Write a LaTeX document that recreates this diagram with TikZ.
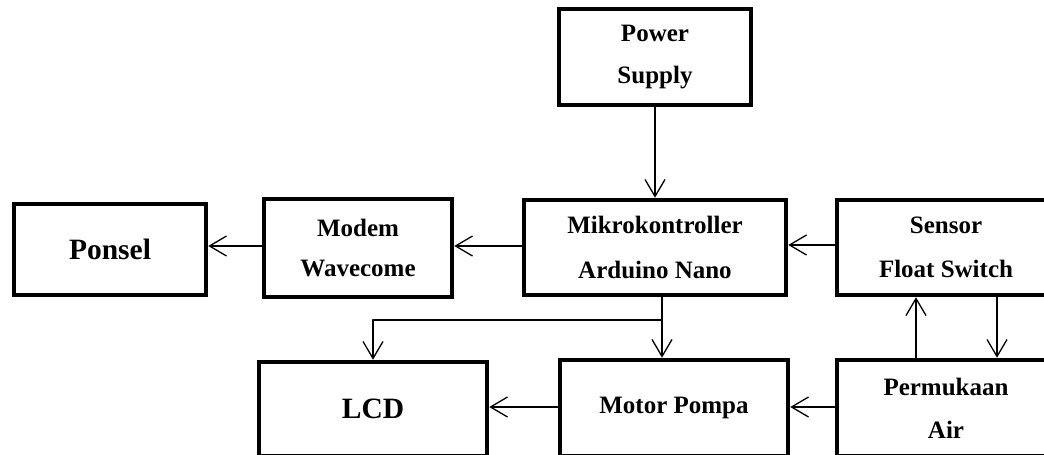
\documentclass[tikz,border=0pt]{standalone}
\usepackage{fontspec}
\setmainfont{Liberation Serif}
\usetikzlibrary{arrows.meta}
\begin{document}
\begin{tikzpicture}[x=1pt,y=1pt,
  blk/.style={draw, line width=4.5pt, rectangle, inner sep=0pt, align=center,
    font=\bfseries\fontsize{25}{44}\selectfont},
  big/.style={font=\bfseries\fontsize{29.5}{34}\selectfont},
  arr/.style={line width=1.3pt, line join=round, -{Straight Barb[length=17pt,width=20pt]}},
  ln/.style={line width=1.3pt}]
\useasboundingbox (0,0) rectangle (1044,455);
\clip (0,0) rectangle (1044,455);

\node[blk, minimum width=192pt, minimum height=96pt, font=\bfseries\fontsize{25}{42}\selectfont] (power) at (655,398) {Power\\Supply};
\node[blk, big, minimum width=192pt, minimum height=91pt] (ponsel) at (110,205.5) {Ponsel};
\node[blk, minimum width=188pt, minimum height=98pt, font=\bfseries\fontsize{25}{40}\selectfont] (modem) at (358,207) {Modem\\Wavecome};
\node[blk, minimum width=262pt, minimum height=95pt, font=\bfseries\fontsize{25}{45}\selectfont] (mikro) at (655,207.5) {Mikrokontroller\\Arduino Nano};
\node[blk, minimum width=218pt, minimum height=95pt] (sensor) at (946,207.5) {Sensor\\Float Switch};
\node[blk, big, minimum width=228pt, minimum height=94pt] (lcd) at (373,46) {LCD};
\node[blk, minimum width=228pt, minimum height=96pt] (motor) at (674,47) {Motor Pompa};
\node[blk, minimum width=218pt, minimum height=96pt, font=\bfseries\fontsize{25}{43}\selectfont] (perm) at (946,47) {Permukaan\\Air};

\coordinate (br) at (662,135);
\coordinate (up) at (916,0);
\coordinate (dn) at (997,0);

\draw[arr] (power) -- (mikro);
\draw[arr] ([yshift=1.5pt]mikro.west) -- ([yshift=1.5pt]mikro.west -| modem.east);
\draw[arr] ([yshift=2pt]modem.west) -- ([yshift=2pt]modem.west -| ponsel.east);
\draw[arr] ([yshift=2.5pt]sensor.west) -- ([yshift=2.5pt]sensor.west -| mikro.east);
\draw[ln] (mikro.south -| br) -- (br);
\draw[arr] (br) -- (br |- motor.north);
\draw[arr] (br) -| (lcd.north);
\draw[arr] ([yshift=1pt]motor.west) -- ([yshift=1pt]motor.west -| lcd.east);
\draw[arr] ([yshift=1pt]perm.west) -- ([yshift=1pt]perm.west -| motor.east);
\draw[arr] (perm.north -| up) -- (sensor.south -| up);
\draw[arr] (sensor.south -| dn) -- (perm.north -| dn);
\end{tikzpicture}
\end{document}
